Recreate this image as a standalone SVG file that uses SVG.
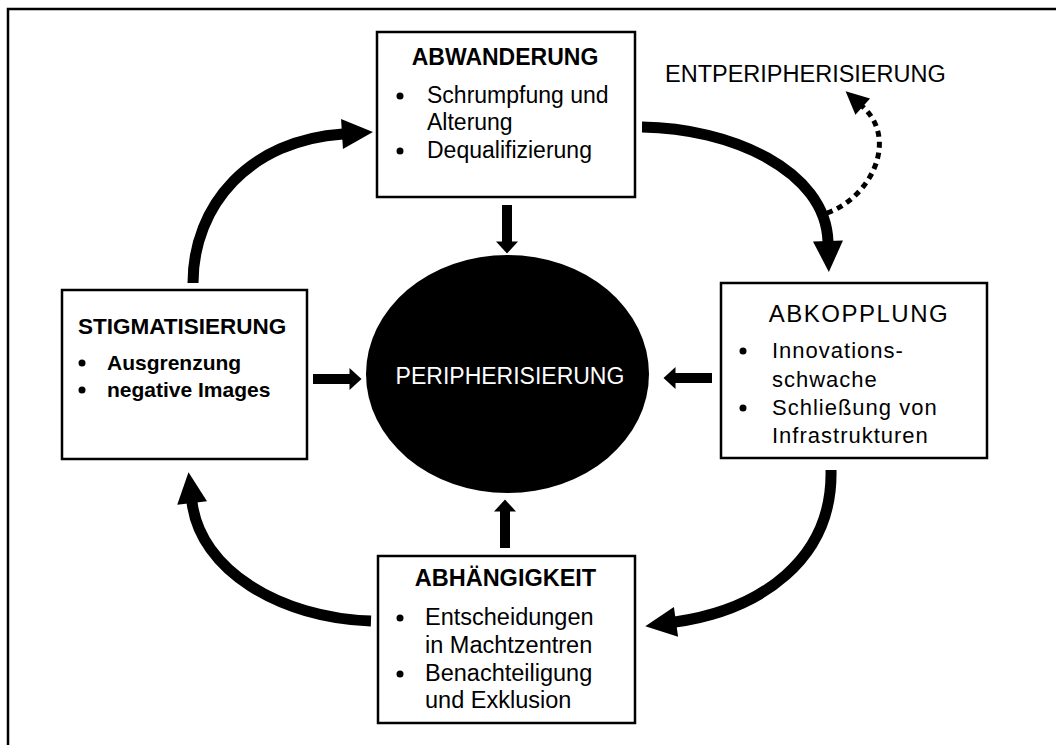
<svg xmlns="http://www.w3.org/2000/svg" width="1056" height="745" viewBox="0 0 1056 745">
<style>
.box{fill:#fff;stroke:#000;stroke-width:2.5}
.t{font-family:"Liberation Sans",Arial,sans-serif;fill:#000}
.b{font-weight:bold}
.arc{fill:none;stroke:#000;stroke-width:11;stroke-linecap:butt}
.st{fill:none;stroke:#000;stroke-width:10}
.dot{fill:none;stroke:#000;stroke-width:5;stroke-dasharray:6 5}
</style>
<defs>
<marker id="big" markerUnits="userSpaceOnUse" markerWidth="32" markerHeight="30" refX="1" refY="15" orient="auto" overflow="visible">
<path d="M0,0 L31,15 L0,30 z" fill="#000"/>
</marker>
<marker id="small" markerUnits="userSpaceOnUse" markerWidth="13" markerHeight="22" refX="0.5" refY="11" orient="auto" overflow="visible">
<path d="M0,0 L12,11 L0,22 z" fill="#000"/>
</marker>
<marker id="dothead" markerUnits="userSpaceOnUse" markerWidth="24" markerHeight="22" refX="1" refY="11" orient="auto" overflow="visible">
<path d="M0,0 L23,11 L0,22 z" fill="#000"/>
</marker>
</defs>
<rect width="1056" height="745" fill="#fff"/>
<path d="M8,745 L8,9 L1056,9" fill="none" stroke="#000" stroke-width="2.5"/>

<g id="connectors">
<path class="arc" d="M193,283 C193,205 250,140 343,134" marker-end="url(#big)"/>
<path class="arc" d="M642,127 C730,128 826,170 828,242" marker-end="url(#big)"/>
<path class="arc" d="M831,470 C833,560 760,610 675,622" marker-end="url(#big)"/>
<path class="arc" d="M371,621 C280,618 200,570 192,502" marker-end="url(#big)"/>
<path class="dot" d="M827,213 C870,198 900,140 862,106" marker-end="url(#dothead)"/>
<path class="st" d="M507,205 L507,242" marker-end="url(#small)"/>
<path class="st" d="M313,379 L350,379" marker-end="url(#small)"/>
<path class="st" d="M712,378 L675,378" marker-end="url(#small)"/>
<path class="st" d="M505,548 L505,511" marker-end="url(#small)"/>
</g>

<g id="peripherisierung">
<ellipse cx="507.5" cy="374" rx="141.5" ry="119" fill="#000"/>
<text class="t" x="510" y="384" font-size="23" text-anchor="middle" style="fill:#fff">PERIPHERISIERUNG</text>
</g>

<g id="abwanderung">
<rect class="box" x="377" y="32" width="258" height="165"/>
<text class="t b" x="505" y="65" font-size="23" text-anchor="middle">ABWANDERUNG</text>
<circle cx="400" cy="96" r="3.5"/>
<text class="t" x="427" y="103" font-size="23">Schrumpfung und</text>
<text class="t" x="427" y="130" font-size="23">Alterung</text>
<circle cx="400" cy="151" r="3.5"/>
<text class="t" x="427" y="158" font-size="23">Dequalifizierung</text>
</g>

<g id="entperipherisierung">
<text class="t" x="665" y="82" font-size="23.5">ENTPERIPHERISIERUNG</text>
</g>

<g id="stigmatisierung">
<rect class="box" x="62" y="290" width="245" height="169"/>
<text class="t b" x="78" y="334" font-size="22.5">STIGMATISIERUNG</text>
<circle cx="82" cy="363" r="3.5"/>
<text class="t b" x="107" y="370" font-size="21">Ausgrenzung</text>
<circle cx="82" cy="390" r="3.5"/>
<text class="t b" x="107" y="397" font-size="21">negative Images</text>
</g>

<g id="abkopplung">
<rect class="box" x="721" y="283" width="266" height="175"/>
<text class="t" x="859" y="322" font-size="24" text-anchor="middle" letter-spacing="1.5">ABKOPPLUNG</text>
<circle cx="743" cy="351" r="3.5"/>
<text class="t" x="772" y="358" font-size="22" letter-spacing="1">Innovations-</text>
<text class="t" x="772" y="387" font-size="22" letter-spacing="1">schwache</text>
<circle cx="743" cy="408" r="3.5"/>
<text class="t" x="772" y="415" font-size="22" letter-spacing="1">Schließung von</text>
<text class="t" x="772" y="443" font-size="22" letter-spacing="1">Infrastrukturen</text>
</g>

<g id="abhaengigkeit">
<rect class="box" x="378" y="556" width="257" height="167"/>
<text class="t b" x="505.5" y="586" font-size="23.5" text-anchor="middle">ABHÄNGIGKEIT</text>
<circle cx="400" cy="618" r="3.5"/>
<text class="t" x="425" y="625" font-size="23.5">Entscheidungen</text>
<text class="t" x="425" y="653" font-size="23.5">in Machtzentren</text>
<circle cx="400" cy="674" r="3.5"/>
<text class="t" x="425" y="681" font-size="23.5">Benachteiligung</text>
<text class="t" x="425" y="708" font-size="23.5">und Exklusion</text>
</g>
</svg>
